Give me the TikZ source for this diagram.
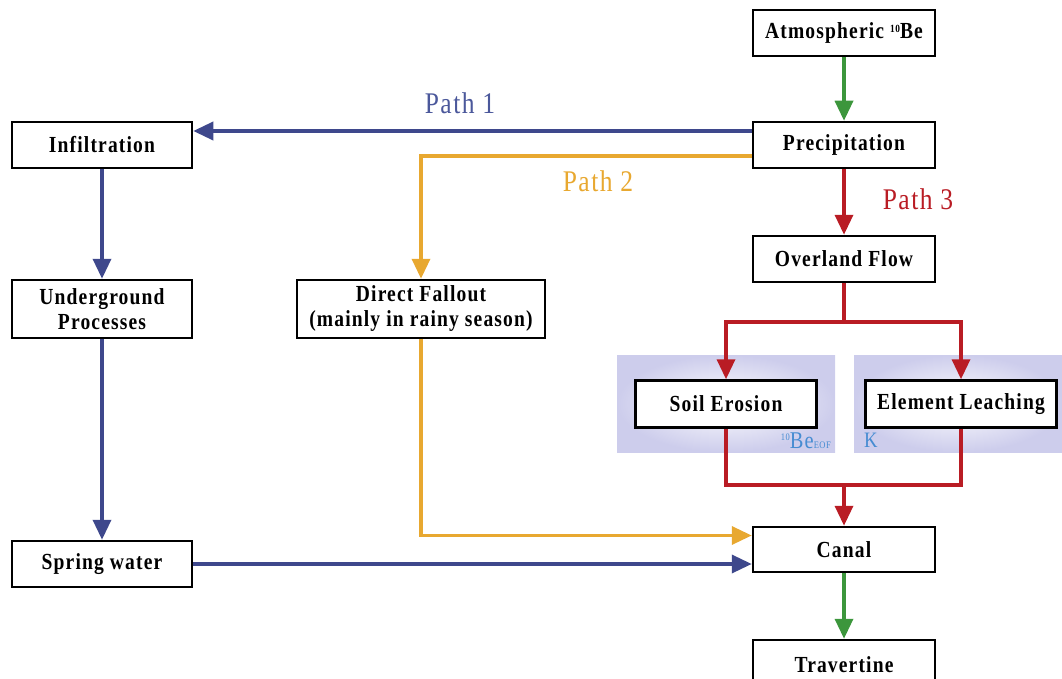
\documentclass[tikz,border=0pt]{standalone}
\usepackage{fontspec}
\setmainfont[LetterSpace=5, FakeStretch=0.85]{Liberation Serif}
\usetikzlibrary{arrows.meta,calc}
\definecolor{pblue}{RGB}{62,72,140}
\definecolor{pyel}{RGB}{232,168,48}
\definecolor{pred}{RGB}{185,28,36}
\definecolor{pgreen}{RGB}{60,150,60}
\definecolor{lblue}{RGB}{70,140,210}
\definecolor{lav}{RGB}{205,205,236}
\definecolor{lblueP}{RGB}{75,88,155}
\begin{document}
\begin{tikzpicture}[x=1pt,y=-1pt,
  box/.style={draw=black, line width=2.5pt, fill=white, font=\bfseries\fontsize{23}{25}\selectfont, align=center, inner sep=0pt, minimum height=46pt},
  conn/.style={line width=3.5pt, -{Triangle[length=20pt,width=18pt]}},
  plain/.style={line width=3.5pt},
  plabel/.style={font=\fontsize{30}{30}\selectfont}
]
\useasboundingbox (0,0) rectangle (1062,679);
% shaded backgrounds
\shade[inner color=white, outer color=lav] (617,355) rectangle (835,452);
\shade[inner color=white, outer color=lav] (854,355) rectangle (1062,452);
% boxes
\node[box, minimum width=182pt] (atm) at (844,33) {Atmospheric {\fontsize{11}{11}\selectfont\raisebox{6pt}{10}}Be};
\node[box, minimum width=182pt] (pre) at (844,145) {Precipitation};
\node[box, minimum width=182pt] (ovl) at (844,259) {Overland Flow};
\node[box, minimum width=180pt] (inf) at (102,145) {Infiltration};
\node[box, minimum width=180pt, minimum height=58pt] (und) at (102,309) {Underground\\Processes};
\node[box, minimum width=248pt, minimum height=58pt] (dir) at (421,309) {Direct Fallout\\(mainly in rainy season)};
\node[box, minimum width=181pt, minimum height=47pt] (soil) at (726,404) {Soil Erosion};
\node[box, minimum width=191pt, minimum height=47pt] (elem) at (961,404) {Element Leaching};
\node[box, minimum width=182pt, minimum height=45pt] (can) at (844,549.5) {Canal};
\node[box, minimum width=180pt] (spr) at (102,564) {Spring water};
\node[box, minimum width=182pt, minimum height=50pt] (trv) at (844,665) {Travertine};
% small labels
\node[text=lblue, anchor=base east, inner sep=0pt, font=\fontsize{24}{24}\selectfont] (beeof) at (831,448) {{\fontsize{10}{10}\selectfont\raisebox{8pt}{10}}Be{\fontsize{10}{10}\selectfont EOF}};
\node[text=lblue, anchor=base west, inner sep=0pt, font=\fontsize{22}{22}\selectfont] (kk) at (864,447) {K};
% path labels
\node[plabel, text=lblueP] (p1) at (460,103) {Path 1};
\node[plabel, text=pyel] (p2) at (598,181) {Path 2};
\node[plabel, text=pred] (p3) at (918,199) {Path 3};
% connectors
\draw[conn, pgreen] (atm) -- (pre);
\draw[conn, pblue] ($(pre.west)+(0,-14)$) -- ($(inf.east)+(0,-14)$);
\draw[conn, pyel] ($(pre.west)+(0,11)$) -| (dir.north);
\draw[conn, pred] (pre) -- (ovl);
\coordinate (split) at (844,322);
\coordinate (merge) at (844,485);
\draw[plain, pred] (ovl.south) -- (split);
\draw[conn, pred] (split) -| (soil.north);
\draw[conn, pred] (split) -| (elem.north);
\draw[plain, pred] (soil.south) |- (merge);
\draw[plain, pred] (elem.south) |- (merge);
\draw[conn, pred] (merge) -- (can.north);
\draw[conn, pblue] (inf) -- (und);
\draw[conn, pblue] (und) -- (spr);
\draw[conn, pblue] (spr.east) -- (spr.east -| can.west);
\draw[conn, pyel] (dir.south) |- ($(can.west)+(0,-14)$);
\draw[conn, pgreen] (can) -- (trv);
\end{tikzpicture}
\end{document}
